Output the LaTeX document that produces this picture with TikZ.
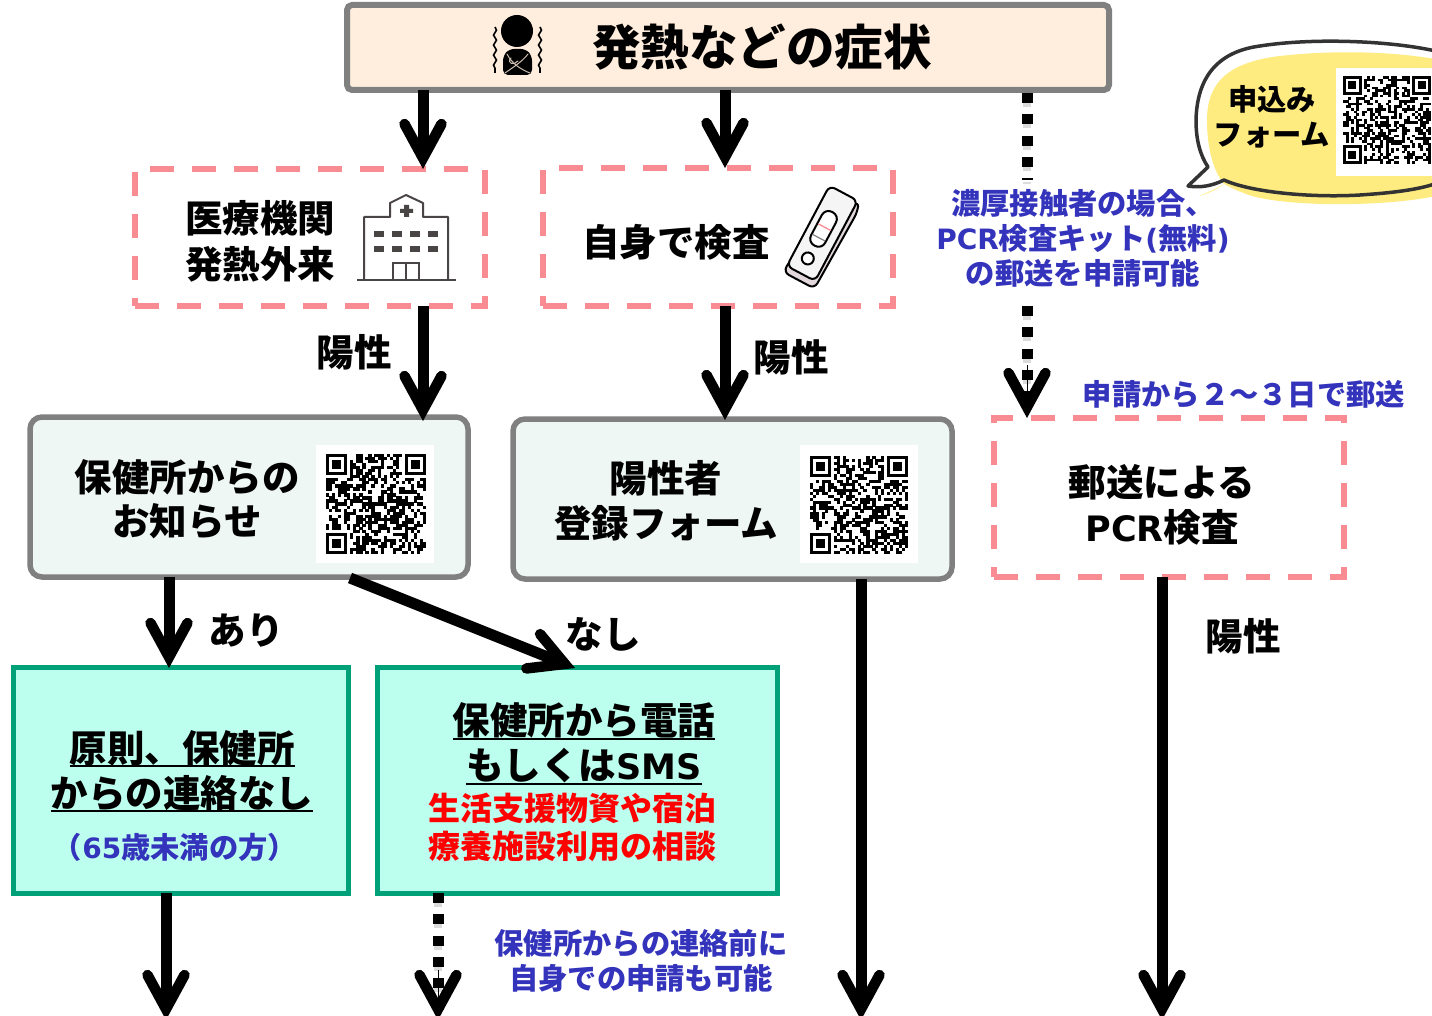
\documentclass[tikz,border=0pt]{standalone}
\usepackage{fontspec}
\setmainfont{Noto Sans CJK JP}
\newfontfamily\lat{DejaVu Sans}
\usetikzlibrary{arrows.meta,decorations.pathmorphing,calc}
\definecolor{topfill}{HTML}{FFEEDD}
\definecolor{boxgray}{HTML}{808080}
\definecolor{dashred}{HTML}{F98B93}
\definecolor{palefill}{HTML}{EEF7F3}
\definecolor{tealfill}{HTML}{BDFFEE}
\definecolor{tealline}{HTML}{00A078}
\definecolor{bluetxt}{HTML}{3333BB}
\definecolor{bubblefill}{HTML}{FFEC80}
\definecolor{iconline}{HTML}{4A4545}
\definecolor{kitside}{HTML}{E2D8DC}
\newcommand\fsz[1]{\fontsize{#1}{#1}\selectfont}
\newcommand\ulx[1]{\setbox0\hbox{#1}\leavevmode\rlap{\rule[-5pt]{\wd0}{2pt}}\box0}
% QR code: x, y, size, seed
\newcommand\qrpat[4]{%
  \begin{scope}[shift={(#1,#2)},x=#3pt/33,y=-#3pt/33]
    \pgfmathsetseed{#4}
    \foreach \i in {0,...,32}{\foreach \j in {0,...,32}{%
      \pgfmathrandominteger{\rr}{0}{99}%
      \ifnum\rr<50
        \pgfmathtruncatemacro\skipit{((\i<8 && \j<8) || (\i>24 && \j<8) || (\i<8 && \j>24)) ? 1 : 0}%
        \ifnum\skipit=0
          \fill[black] (\i,\j) rectangle (\i+1.06,\j+1.06);
        \fi
      \fi}}
    \foreach \px/\py in {0/0,26/0,0/26}{%
      \fill[black] (\px,\py) rectangle ++(7,7);
      \fill[white] (\px+1,\py+1) rectangle ++(5,5);
      \fill[black] (\px+2,\py+2) rectangle ++(3,3);}
  \end{scope}}
\tikzset{
  every node/.style={inner sep=0pt,outer sep=0pt},
  topbox/.style={draw=boxgray,line width=6pt,fill=topfill,rounded corners=5pt},
  pinkbox/.style={draw=dashred,line width=6pt,dash pattern=on 24pt off 18pt,fill=white},
  palebox/.style={draw=boxgray,line width=5.5pt,fill=palefill,rounded corners=12pt},
  tealbox/.style={draw=tealline,line width=5pt,fill=tealfill},
  black label/.style={align=center,font=\bfseries\fsz{37.5},text=black},
  blue label/.style={align=center,font=\bfseries\fsz{29.3},text=bluetxt},
  flow/.style={line width=11pt,draw=black,-{Straight Barb[length=34pt,width=37pt,line width=10.5pt,line cap=round]}},
  flowhead/.style={line width=1pt,draw=black,-{Straight Barb[length=34pt,width=37pt,line width=10.5pt,line cap=round]}},
  dotline/.style={line width=11pt,draw=black,dash pattern=on 10pt off 11.3pt},
  dotshade/.style={line width=8pt,draw=black!14,dash pattern=on 10pt off 11.3pt},
}
\begin{document}
\begin{tikzpicture}[x=1pt,y=-1pt]
\useasboundingbox (0,0) rectangle (1432,1016);
\clip (0,0) rectangle (1432,1016);
% column coordinates
\coordinate (c166) at (166,0);
\coordinate (c169) at (169,0);
\coordinate (c423) at (423,0);
\coordinate (c438) at (438,0);
\coordinate (c725) at (725,0);
\coordinate (c861) at (861,0);
\coordinate (c1027) at (1027,0);
\coordinate (c1162) at (1162,0);
\coordinate (bottomedge) at (0,1020);
\coordinate (bottomdots) at (0,1012);
\coordinate (bottomhead) at (0,970);
\coordinate (dotgapa) at (0,180);
\coordinate (dotgapb) at (0,306);
\coordinate (dotend) at (0,398);
\coordinate (headstart) at (0,365);
\coordinate (dotstart) at (0,93);
\coordinate (diaga) at (350,578);
\coordinate (diagb) at (575,668);

% boxes
\node[topbox,minimum width=762pt,minimum height=85pt] (top) at (728,47.5) {};
\node[pinkbox,minimum width=350pt,minimum height=137pt] (clinic) at (310,237.5) {};
\node[pinkbox,minimum width=350pt,minimum height=138pt] (self) at (718,237) {};
\node[palebox,minimum width=438pt,minimum height=160pt] (notice) at (249,497) {};
\node[palebox,minimum width=439pt,minimum height=160pt] (register) at (732.5,499) {};
\node[pinkbox,minimum width=350pt,minimum height=159pt] (mailtest) at (1169,497.5) {};
\node[tealbox,minimum width=335pt,minimum height=226pt] (nocall) at (180.5,780) {};
\node[tealbox,minimum width=400pt,minimum height=226pt] (call) at (577,780) {};

% arrows
\draw[flow] (top.south -| c423) -- (clinic.north -| c423);
\draw[flow] ($(top.south -| c725)$) -- (self.north -| c725);
\draw[flow] (clinic.south -| c423) -- ([yshift=-4pt]notice.north -| c423);
\draw[flow] (self.south -| c725) -- ([yshift=-1pt]register.north -| c725);
\draw[flow] (notice.south -| c169) -- ([yshift=-1pt]nocall.north -| c169);
\draw[flow] (diaga) -- (diagb);
\draw[flow] (nocall.south -| c166) -- (bottomedge -| c166);
\draw[flow] (register.south -| c861) -- (bottomedge -| c861);
\draw[flow] (mailtest.south -| c1162) -- (bottomedge -| c1162);
\draw[dotshade] ([yshift=-4pt]dotstart -| c1027) -- ([yshift=-4pt]dotgapa -| c1027);
\draw[dotline] (dotstart -| c1027) -- (dotgapa -| c1027);
\draw[dotshade] ([yshift=-4pt]dotgapb -| c1027) -- ([yshift=-4pt]dotend -| c1027);
\draw[dotline] (dotgapb -| c1027) -- (dotend -| c1027);
\draw[flowhead] (headstart -| c1027) -- (mailtest.north -| c1027);
\draw[dotshade] ([yshift=-4pt]call.south -| c438) -- ([yshift=-4pt]bottomdots -| c438);
\draw[dotline] (call.south -| c438) -- (bottomdots -| c438);
\draw[flowhead] (bottomhead -| c438) -- (bottomedge -| c438);

% top box contents
\node[font=\bfseries\fsz{48.5}] (title) at (762,47) {発熱などの症状};
\fill[black] (517,31) circle (16);
\fill[black,rounded corners=5pt] (503,75) -- (503,56) -- (509,49) -- (526,49) -- (532,56) -- (532,75) -- cycle;
\draw[topfill!80!black,line width=1pt,line cap=round] (507,54) .. controls (512,64) and (522,70) .. (530,73)
  (528,54) .. controls (522,62) and (512,68) .. (505,73)
  (511,58) .. controls (506,63) and (514,66) .. (518,61);
\draw[black,line width=1.6pt,decorate,decoration={snake,amplitude=1.5pt,segment length=10pt}] (495,27) -- (495,73);
\draw[black,line width=1.6pt,decorate,decoration={snake,amplitude=1.5pt,segment length=10pt}] (540,27) -- (540,73);

% clinic
\node[black label,text width=160pt] (clinictext) at (260,241) {医療機関\\[8.5pt]発熱外来};
\draw[iconline,line width=2pt] (357,280) -- (456,280);
\draw[iconline,line width=2pt,line join=round] (364,280) -- (364,217) -- (390,217) -- (390,203) -- (406,195) -- (423,203) -- (423,217) -- (448,217) -- (448,280);
\fill[iconline] (404,205) rectangle (409,217) (400,209) rectangle (413,213);
\foreach \wx in {379,397,415,433}{\foreach \wy in {234,249}{\fill[iconline] (\wx-5,\wy-3) rectangle (\wx+5,\wy+3);}}
\draw[iconline,line width=2pt] (393,280) -- (393,263) -- (419,263) -- (419,280) (406,263) -- (406,280);

% self test
\begin{scope}[shift={(822,236)},rotate=-28]
  \draw[black,line width=2pt,fill=kitside,rounded corners=6pt] (-17,38) -- (-17,50) -- (18,50) -- (20,-38) -- (16,-48) -- cycle;
  \draw[black,line width=2pt,fill=white!96!black,rounded corners=6pt] (-17,-48) rectangle (15,43);
  \draw[black,line width=2pt,fill=white,rounded corners=7.5pt] (-10,-26) rectangle (6,12);
  \draw[dashred,line width=1.3pt] (-9,-9) -- (5,-9);
  \draw[gray,line width=1.2pt] (-9,3) -- (5,3);
  \draw[black,line width=2pt,fill=white] (-2,26.5) circle (6);
\end{scope}
\node[black label] (selftext) at (676,242) {自身で検査};

% labels by arrows
\node[black label] (pos1) at (354,352) {陽性};
\node[black label] (pos2) at (791,357) {陽性};
\node[black label] (pos3) at (1243,636) {陽性};
\node[black label] (yes) at (246,631) {あり};
\node[black label] (no) at (603,634) {なし};

% notice
\node[black label] (noticetext) at (187,499.5) {保健所からの\\[6.5pt]お知らせ};
\fill[white] (316,445) rectangle (434,563);
\qrpat{326}{454}{100}{11}
% register
\node[black label] (registertext) at (666,500.5) {陽性者\\[7.5pt]登録フォーム};
\fill[white] (800,445) rectangle (918,563);
\qrpat{810}{456}{98}{27}
% mail test
\node[black label] (mailtext) at (1162,505) {郵送による\\[7.5pt]{\lat\fsz{35}PCR}検査};
\node[blue label] (mailnote) at (1244,394) {申請から２～３日で郵送};

% blue notice
\node[blue label] (contact) at (1083,238) {濃厚接触者の場合、\\[5.7pt]{\lat\fsz{28}PCR}検査キット{\lat\fsz{28}(}無料{\lat\fsz{28})}\\[5.7pt]の郵送を申請可能};

% bubble
\fill[bubblefill] (1199,196) .. controls (1206,193) and (1214,190) .. (1224,184)
  .. controls (1214,172) and (1207,150) .. (1207,120)
  .. controls (1207,85) and (1225,60) .. (1290,55)
  .. controls (1340,50) and (1400,52) .. (1440,60) -- (1440,195)
  .. controls (1400,205) and (1310,208) .. (1260,198)
  .. controls (1245,195) and (1232,188) .. (1224,184) .. controls (1216,190) and (1207,194) .. (1199,196) -- cycle;
\draw[black!80,line width=3.5pt,line join=round] (1440,52) .. controls (1390,40) and (1310,38) .. (1260,46)
  .. controls (1215,52) and (1197,80) .. (1196,120)
  .. controls (1196,140) and (1200,155) .. (1208,167)
  -- (1188,186) .. controls (1200,188) and (1212,186) .. (1224,180)
  .. controls (1250,192) and (1310,198) .. (1360,195) .. controls (1390,193) and (1420,190) .. (1440,182);
\node[align=center,font=\bfseries\fsz{29.3}] (formtext) at (1272,116.5) {申込み\\[5.7pt]フォーム};
\fill[white] (1336,68) rectangle (1440,176);
\qrpat{1343}{76}{88}{53}

% teal boxes text
\node[black label] (nocalltext) at (182,771.5) {\ulx{原則、保健所}\\[7.5pt]\ulx{からの連絡なし}};
\node[blue label] (age) at (175,847) {（{\lat\fsz{28}65}歳未満の方）};
\node[black label] (calltext) at (584,743.5) {\ulx{保健所から電話}\\[7.5pt]\ulx{もしくは{\lat\fsz{35}SMS}}};
\node[align=center,font=\bfseries\fsz{32},text=red] (consult) at (572,827) {生活支援物資や宿泊\\[6pt]療養施設利用の相談};
\node[blue label] (before) at (641,960.5) {保健所からの連絡前に\\[5.7pt]自身での申請も可能};
\end{tikzpicture}
\end{document}
